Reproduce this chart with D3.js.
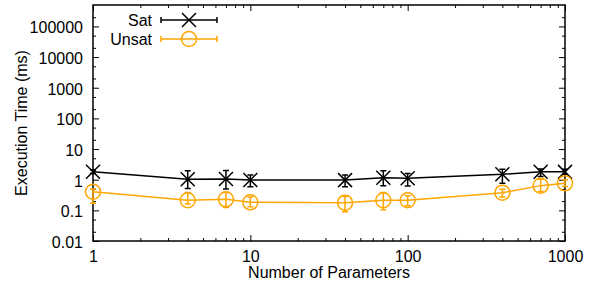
<!DOCTYPE html>
<html>
<head>
<meta charset="utf-8">
<script src="https://cdn.jsdelivr.net/npm/d3@7"></script>
<style>
  body { margin: 0; background: #fff; }
  svg text { font-family: "Liberation Sans", Arial, Helvetica, sans-serif; fill: #000; }
</style>
</head>
<body>
<div id="chart"></div>
<script>
// number of parameters (x) and execution times in ms
const params = [1, 4, 7, 10, 40, 70, 100, 400, 700, 1000];
const satMean = [1.82, 1.03, 1.06, 0.98, 0.97, 1.16, 1.11, 1.5, 1.82, 1.8];
const satLow = [1.6, 0.52, 0.5, 0.59, 0.59, 0.64, 0.62, 0.76, 1.27, 1.5];
const satHigh = [2.1, 1.96, 2.0, 1.42, 1.42, 1.96, 1.6, 2.2, 2.24, 2.2];
const unsatMean = [0.405, 0.213, 0.229, 0.183, 0.178, 0.213, 0.213, 0.377, 0.64, 0.76];
const unsatLow = [0.17, 0.16, 0.125, 0.13, 0.09, 0.105, 0.14, 0.27, 0.41, 0.6];
const unsatHigh = [0.5, 0.38, 0.38, 0.27, 0.29, 0.38, 0.3, 0.49, 1.03, 1.0];

const xTicks = [1, 10, 100, 1000];
const xTickLabels = ["1", "10", "100", "1000"];
const yTicks = [0.01, 0.1, 1, 10, 100, 1000, 10000, 100000];
const yTickLabels = ["0.01", "0.1", "1", "10", "100", "1000", "10000", "100000"];

const width = 597;
const height = 286;
const mLeft = 93, mRight = 565, mTop = 5, mBottom = 241;
const fontSize = 16;

const svg = d3.select("#chart").append("svg").attr("width", width).attr("height", height);

const xScale = d3.scaleLog().domain([1, 1000]).range([mLeft, mRight]);
const yScale = d3.scaleLog().domain([0.01, 500000]).range([mBottom, mTop]);

// minor ticks
let xMinor = [];
[1, 10, 100].forEach(d => { for (let k = 2; k <= 9; k++) xMinor.push(d * k); });
let yMinor = [];
[0.01, 0.1, 1, 10, 100, 1000, 10000, 100000].forEach(d => { [2, 5].forEach(k => { if (d * k < 500000) yMinor.push(d * k); }); });

function drawAxis(axis, tx, ty) {
    const g = svg.append("g").attr("transform", `translate(${tx},${ty})`).call(axis);
    g.select(".domain").remove();
    g.selectAll(".tick line").attr("stroke", "#000").attr("stroke-width", 1);
    g.selectAll("text").attr("font-size", fontSize).attr("fill", "#000");
    return g;
}

// bottom
const gx = drawAxis(d3.axisBottom(xScale).tickValues(xTicks).tickFormat((d, i) => xTickLabels[i]).tickSize(-6), 0, mBottom);
gx.selectAll("text").attr("dy", "0.71em").attr("y", 10);
drawAxis(d3.axisBottom(xScale).tickValues(xMinor).tickFormat("").tickSize(-3), 0, mBottom);
// top mirror
drawAxis(d3.axisTop(xScale).tickValues(xTicks).tickFormat("").tickSize(-6), 0, mTop);
drawAxis(d3.axisTop(xScale).tickValues(xMinor).tickFormat("").tickSize(-3), 0, mTop);
// left
const gy = drawAxis(d3.axisLeft(yScale).tickValues(yTicks).tickFormat((d, i) => yTickLabels[i]).tickSize(-6), mLeft, 0);
gy.selectAll("text").attr("x", -10).attr("dy", "0.4em");
drawAxis(d3.axisLeft(yScale).tickValues(yMinor).tickFormat("").tickSize(-3), mLeft, 0);
// right mirror
drawAxis(d3.axisRight(yScale).tickValues(yTicks).tickFormat("").tickSize(-6), mRight, 0);
drawAxis(d3.axisRight(yScale).tickValues(yMinor).tickFormat("").tickSize(-3), mRight, 0);

// frame
svg.append("rect")
    .attr("x", mLeft).attr("y", mTop)
    .attr("width", mRight - mLeft).attr("height", mBottom - mTop)
    .attr("fill", "none").attr("stroke", "#000").attr("stroke-width", 1.5);

// axis labels
svg.append("text")
    .attr("x", (mLeft + mRight) / 2).attr("y", 278)
    .attr("text-anchor", "middle").attr("font-size", fontSize)
    .text("Number of Parameters");
svg.append("text")
    .attr("transform", `translate(27,${(mTop + mBottom) / 2}) rotate(-90)`)
    .attr("text-anchor", "middle").attr("font-size", fontSize)
    .text("Execution Time (ms)");

const series = [
    { name: "Sat", color: "#000000", mean: satMean, low: satLow, high: satHigh, marker: "x" },
    { name: "Unsat", color: "#FFA500", mean: unsatMean, low: unsatLow, high: unsatHigh, marker: "o" }
];

function drawMarker(g, type, cx, cy, color) {
    if (type === "x") {
        const r = 7;
        g.append("path")
            .attr("d", `M${cx - r},${cy - r}L${cx + r},${cy + r}M${cx - r},${cy + r}L${cx + r},${cy - r}`)
            .attr("stroke", color).attr("stroke-width", 1.5).attr("fill", "none");
    } else {
        g.append("circle")
            .attr("cx", cx).attr("cy", cy).attr("r", 7.5)
            .attr("stroke", color).attr("stroke-width", 1.5).attr("fill", "none");
    }
}

const line = d3.line().x(d => xScale(d[0])).y(d => yScale(d[1]));

series.forEach(s => {
    const g = svg.append("g");
    const pts = params.map((p, i) => [p, s.mean[i]]);
    g.append("path").datum(pts)
        .attr("d", line).attr("fill", "none")
        .attr("stroke", s.color).attr("stroke-width", 1.5);
    params.forEach((p, i) => {
        const x = xScale(p);
        const y1 = yScale(s.low[i]), y2 = yScale(s.high[i]);
        g.append("path")
            .attr("d", `M${x},${y1}L${x},${y2}M${x - 3},${y1}L${x + 3},${y1}M${x - 3},${y2}L${x + 3},${y2}`)
            .attr("stroke", s.color).attr("stroke-width", 1.5).attr("fill", "none");
        drawMarker(g, s.marker, x, yScale(s.mean[i]), s.color);
    });
});

// legend
series.forEach((s, i) => {
    const ly = 20 + i * 19;
    const g = svg.append("g");
    g.append("text")
        .attr("x", 152).attr("y", ly).attr("dy", "0.36em")
        .attr("text-anchor", "end").attr("font-size", fontSize)
        .text(s.name);
    g.append("path")
        .attr("d", `M161,${ly}L217,${ly}M161,${ly - 3}L161,${ly + 3}M217,${ly - 3}L217,${ly + 3}`)
        .attr("stroke", s.color).attr("stroke-width", 1.5).attr("fill", "none");
    drawMarker(g, s.marker, 189, ly, s.color);
});
</script>
</body>
</html>
